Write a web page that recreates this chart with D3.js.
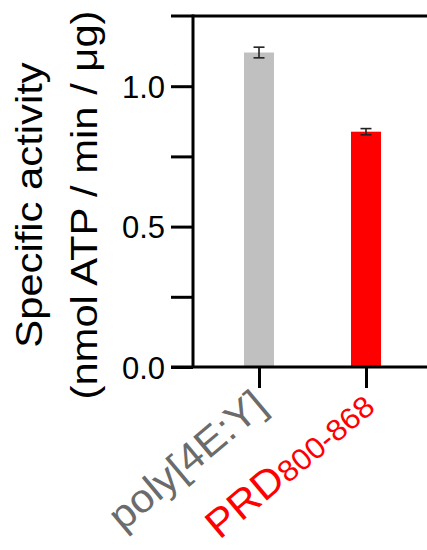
<!DOCTYPE html>
<html>
<head>
<meta charset="utf-8">
<script src="https://cdn.jsdelivr.net/npm/d3@7"></script>
<style>
  html, body { margin: 0; padding: 0; background: #fff; }
  svg { display: block; font-family: "Liberation Sans", Arial, Helvetica, sans-serif; }
</style>
</head>
<body>
<svg id="chart" width="427" height="550"></svg>
<script>
// Specific activity of the kinase on two substrates (mean ± SD)
const categories = ["poly[4E:Y]", "PRD800-868"];
const means = [1.12, 0.838];
const errors = [0.019, 0.011];
const barColors = ["#c0c0c0", "#ff0000"];
const labelColors = ["#6b6b6b", "#ff0000"];
const yTicks = [0, 0.25, 0.5, 0.75, 1.0];
const yTickLabels = ["0.0", "", "0.5", "", "1.0"];

const W = 427, H = 550;
const margin = { top: 16, left: 193, bottom: 183 };
const plotBottom = H - margin.bottom;

const svg = d3.select("#chart");

const y = d3.scaleLinear().domain([0, 1.25]).range([plotBottom, margin.top]);
const x = d3.scalePoint().domain(categories).range([margin.left, 432]).padding(0.617);

const barWidth = 30;
const axisW = 3;
const titleStretch = 1.16; // title glyphs run a little wide
const labelStretch = 1.05;

// bars
svg.selectAll("rect.bar")
  .data(categories)
  .join("rect")
  .attr("class", "bar")
  .attr("x", d => x(d) - barWidth / 2)
  .attr("width", barWidth)
  .attr("y", (d, i) => y(means[i]))
  .attr("height", (d, i) => y(0) - y(means[i]))
  .attr("fill", (d, i) => barColors[i]);

// error bars
const eb = svg.append("g").attr("stroke", "#222").attr("stroke-width", 1.6).attr("fill", "none");
categories.forEach((c, i) => {
  const cx = x(c), hi = y(means[i] + errors[i]), lo = y(means[i] - errors[i]);
  eb.append("line").attr("x1", cx).attr("x2", cx).attr("y1", hi).attr("y2", lo);
  eb.append("line").attr("x1", cx - 5.5).attr("x2", cx + 5.5).attr("y1", hi).attr("y2", hi);
  eb.append("line").attr("x1", cx - 5.5).attr("x2", cx + 5.5).attr("y1", lo).attr("y2", lo);
});

// y axis
const yAxis = d3.axisLeft(y)
  .tickValues(yTicks)
  .tickFormat((d, i) => yTickLabels[i])
  .tickSizeInner(22)
  .tickSizeOuter(0)
  .tickPadding(6);
const gy = svg.append("g").attr("transform", `translate(${margin.left},0)`).call(yAxis);
gy.select(".domain").attr("stroke", "#000").attr("stroke-width", axisW)
  .attr("d", `M0,${margin.top - axisW / 2}V${plotBottom}`);
gy.selectAll(".tick line").attr("stroke", "#000").attr("stroke-width", axisW);
gy.selectAll(".tick text").attr("fill", "#000").attr("font-size", 31)
  .attr("font-family", "Liberation Sans, Arial, sans-serif").attr("dy", "0.36em");

// x axis baseline and top frame line
svg.append("line").attr("x1", margin.left - 22).attr("x2", W)
  .attr("y1", plotBottom).attr("y2", plotBottom)
  .attr("stroke", "#000").attr("stroke-width", axisW);
svg.append("line").attr("x1", margin.left - 22).attr("x2", W)
  .attr("y1", margin.top).attr("y2", margin.top)
  .attr("stroke", "#000").attr("stroke-width", axisW);

// x ticks
const xAxis = d3.axisBottom(x).tickSizeInner(21).tickSizeOuter(0).tickFormat("");
const gx = svg.append("g").attr("transform", `translate(0,${plotBottom})`).call(xAxis);
gx.select(".domain").remove();
gx.selectAll(".tick line").attr("stroke", "#000").attr("stroke-width", axisW);

// rotated category labels
const labelY = plotBottom + 42;
categories.forEach((c, i) => {
  const t = svg.append("text")
    .attr("transform", `translate(${x(c) + 10},${labelY}) rotate(-40) scale(${labelStretch},1)`)
    .attr("text-anchor", "end")
    .attr("fill", labelColors[i])
    .attr("font-size", 40);
  if (c.startsWith("PRD")) {
    t.append("tspan").text("PRD");
    t.append("tspan").attr("font-size", 30).attr("dy", 1).text(c.slice(3));
  } else {
    t.text(c);
  }
});

// y axis title
const title = svg.append("text")
  .attr("transform", `translate(0,205) rotate(-90) scale(${titleStretch},1)`)
  .attr("text-anchor", "middle")
  .attr("font-size", 36)
  .attr("fill", "#000");
title.append("tspan").attr("x", 0).attr("y", 42).text("Specific activity");
title.append("tspan").attr("x", 0).attr("y", 97).text("(nmol ATP / min / μg)");
</script>
</body>
</html>
